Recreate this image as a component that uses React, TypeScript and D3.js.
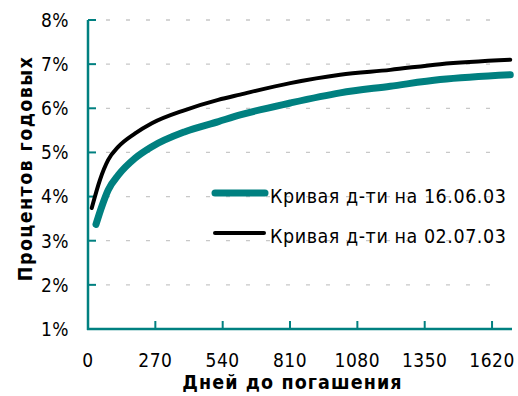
import React from "react";
import * as d3 from "d3";

const daysA = [32, 55, 81, 122, 189, 256, 389, 523, 610, 811, 1011, 1212, 1412, 1693];
const ratesA = [3.37, 3.77, 4.15, 4.49, 4.87, 5.13, 5.47, 5.7, 5.85, 6.12, 6.35, 6.5, 6.65, 6.76];
const daysB = [15, 48, 81, 122, 189, 256, 389, 522, 610, 811, 1011, 1212, 1412, 1693];
const ratesB = [3.74, 4.38, 4.83, 5.13, 5.43, 5.66, 5.96, 6.19, 6.31, 6.57, 6.76, 6.87, 7.0, 7.1];
const xTicks = [0, 270, 540, 810, 1080, 1350, 1620];
const yTicks = [1, 2, 3, 4, 5, 6, 7, 8];
const seriesNames = ["Кривая д-ти на 16.06.03", "Кривая д-ти на 02.07.03"];
const xTitle = "Дней до погашения";
const yTitle = "Процентов годовых";

const TEAL = "#008080";
const FONT = "'DejaVu Sans Condensed', 'DejaVu Sans', sans-serif";

export default function App() {
  const W = 518, H = 396;
  const x = d3.scaleLinear().domain([0, 1700]).range([88, 512]);
  const y = d3.scaleLinear().domain([1, 8]).range([329, 20]);
  const line = d3.line<[number, number]>().x(d => x(d[0])).y(d => y(d[1])).curve(d3.curveMonotoneX);
  const ptsA = daysA.map((d, i) => [d, ratesA[i]] as [number, number]);
  const ptsB = daysB.map((d, i) => [d, ratesB[i]] as [number, number]);
  const x0 = x(0), x1 = x.range()[1];
  const y0 = y(1);
  return (
    <svg width={W} height={H} style={{ position: "absolute", left: 0, top: 0, background: "#fff" }}>
      {yTicks.slice(1).map(t => (
        <line key={"g" + t} x1={x0 + 18} x2={x1 - 6} y1={y(t)} y2={y(t)} stroke="#c8c8c8" strokeWidth={1.3} strokeDasharray="4 16" />
      ))}
      <line x1={x0} x2={x0} y1={y(8)} y2={y0 + 1} stroke={TEAL} strokeWidth={2.5} />
      <line x1={x0 - 1} x2={x1} y1={y0} y2={y0} stroke={TEAL} strokeWidth={2.5} />
      {yTicks.map(t => (
        <g key={"y" + t}>
          <line x1={x0} x2={x0 + 8} y1={y(t)} y2={y(t)} stroke={TEAL} strokeWidth={2} />
          <text x={69} y={y(t)} dy="0.36em" textAnchor="end" fontFamily={FONT} fontSize={19} letterSpacing={0.5} fill="#000">{t}%</text>
        </g>
      ))}
      {xTicks.map(t => (
        <g key={"x" + t}>
          <line x1={x(t)} x2={x(t)} y1={y0} y2={y0 - 8} stroke={TEAL} strokeWidth={2} />
          <text x={x(t)} y={367} textAnchor="middle" fontFamily={FONT} fontSize={19} letterSpacing={0.5} fill="#000">{t}</text>
        </g>
      ))}
      <path d={line(ptsA) || ""} fill="none" stroke={TEAL} strokeWidth={7} strokeLinecap="round" strokeLinejoin="round" />
      <path d={line(ptsB) || ""} fill="none" stroke="#000" strokeWidth={4} strokeLinecap="round" strokeLinejoin="round" />
      <line x1={215} x2={265} y1={193} y2={193} stroke={TEAL} strokeWidth={7} strokeLinecap="round" />
      <text x={270} y={203} fontFamily={FONT} fontSize={19.5} letterSpacing={0.55} fill="#000">{seriesNames[0]}</text>
      <line x1={215} x2={264} y1={233} y2={233} stroke="#000" strokeWidth={4} strokeLinecap="round" />
      <text x={270} y={243} fontFamily={FONT} fontSize={19.5} letterSpacing={0.55} fill="#000">{seriesNames[1]}</text>
      <text x={292.5} y={389} textAnchor="middle" fontFamily={FONT} fontWeight="bold" fontSize={19.5} letterSpacing={1.1} fill="#000">{xTitle}</text>
      <text transform="translate(32,168.5) rotate(-90)" textAnchor="middle" fontFamily={FONT} fontWeight="bold" fontSize={19.5} letterSpacing={1.4} fill="#000">{yTitle}</text>
    </svg>
  );
}
